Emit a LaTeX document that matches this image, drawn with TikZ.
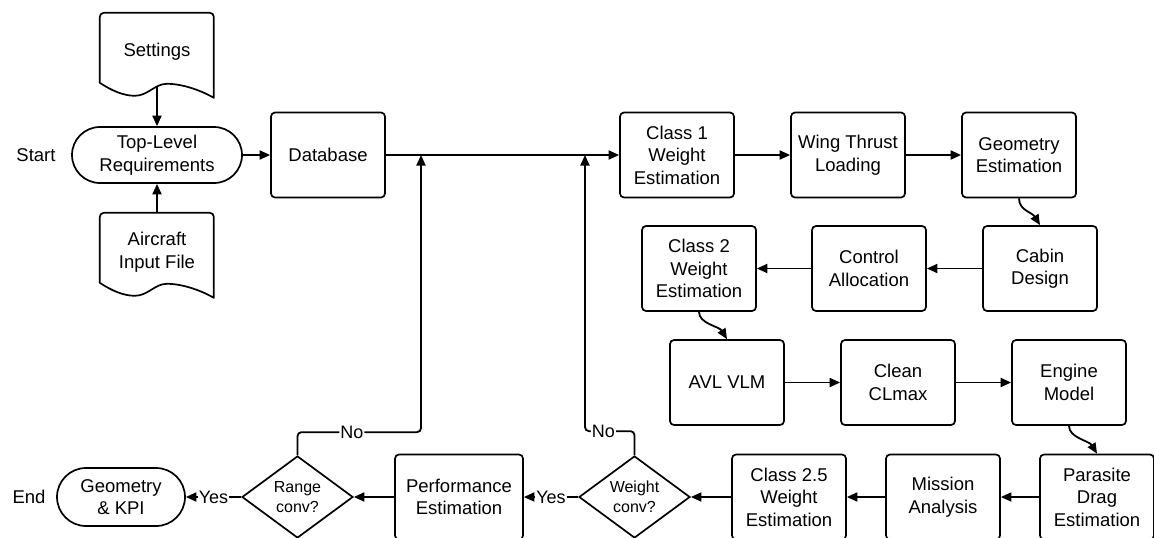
\documentclass[tikz,border=0pt]{standalone}
\usepackage{fontspec}
\setmainfont{Liberation Sans}
\usetikzlibrary{arrows.meta,shapes.geometric}

\tikzset{
  txt/.style={font=\fontsize{18.5}{22.5}\selectfont, align=center},
  base/.style={txt, line width=1.7pt, draw=black, inner sep=1pt},
  box/.style={base, rectangle, rounded corners=4pt, minimum width=114pt, minimum height=85pt},
  wide/.style={box, minimum width=128pt},
  term/.style={base, rectangle, rounded corners=28pt, minimum width=170pt, minimum height=56pt},
  dec/.style={base, diamond, aspect=1.35, inner sep=0pt, minimum width=111pt, minimum height=82pt,
              font=\fontsize{16}{19.5}\selectfont},
  doc/.style={txt, inner sep=0pt, minimum width=114pt, minimum height=78pt},
  lbl/.style={fill=white, inner sep=1pt, font=\fontsize{18}{20}\selectfont},
  arr/.style={line width=1.8pt, -{Triangle[length=10.5pt,width=9pt]}},
  edge line/.style={line width=1.7pt, line join=round},
}

% outline of a "document" symbol: rounded top, wavy bottom edge
\newcommand\docoutline[1]{%
  \begin{scope}[shift={(#1.north west)}]
    \draw[edge line] (0,70) [rounded corners=4pt] -- (0,0) -- (114,0) [sharp corners] -- (114,85)
      .. controls (100,77) and (82,71) .. (67,71)
      .. controls (55,71) and (48,83) .. (35,83)
      .. controls (24,83) and (12,78) .. (0,70) -- cycle;
  \end{scope}}

\begin{document}
\begin{tikzpicture}[x=1pt,y=-1pt]
  \fill[white] (0,0) rectangle (1154,538);
  \useasboundingbox (0,0) rectangle (1154,538);

  % inputs and start
  \node[doc] (set) at (157,52) {Settings};
  \node[doc] (air) at (157,252) {Aircraft\\Input File};
  \docoutline{set}
  \docoutline{air}
  \node[term] (tl) at (157,155) {Top-Level\\Requirements};
  \node[txt] (start) at (36,155) {Start};
  \node[box] (db) at (328,155) {Database};

  % sizing loop, first row
  \node[box] (c1) at (677,155) {Class 1\\Weight\\Estimation};
  \node[box] (wtl) at (848,155) {Wing Thrust\\Loading};
  \node[box] (geo) at (1019,155) {Geometry\\Estimation};

  % second row
  \node[box] (cab) at (1040,268.5) {Cabin\\Design};
  \node[box] (ctrl) at (869,268.5) {Control\\Allocation};
  \node[box] (c2) at (699,268.5) {Class 2\\Weight\\Estimation};

  % third row
  \node[box] (avl) at (727,382.5) {AVL VLM};
  \node[box] (clean) at (898,382.5) {Clean\\CLmax};
  \node[box] (eng) at (1069,382.5) {Engine\\Model};

  % bottom row
  \node[box] (par) at (1097,497) {Parasite\\Drag\\Estimation};
  \node[box] (mis) at (943,497) {Mission\\Analysis};
  \node[box] (c25) at (789,497) {Class 2.5\\Weight\\Estimation};
  \node[dec] (wc) at (634.5,497) {Weight\\conv?};
  \node[wide] (perf) at (459,497) {Performance\\Estimation};
  \node[dec] (rc) at (297.5,497) {Range\\conv?};
  \node[term, minimum width=128pt, minimum height=58pt, rounded corners=29pt] (gk) at (121,497) {Geometry\\\& KPI};
  \node[txt] (end) at (29,497) {End};

  % merge points on the main line
  \coordinate (j1) at (421,155);
  \coordinate (j2) at (585,155);

  % connectors
  \draw[arr] ([yshift=5pt]set.south) -- (tl.north);
  \draw[arr] (air.north) -- (tl.south);
  \draw[arr] (tl.east) -- (db.west);
  \draw[arr] (db.east) -- (c1.west);
  \draw[arr] (c1.east) -- (wtl.west);
  \draw[arr] (wtl.east) -- (geo.west);
  \draw[arr] (geo.south) .. controls +(0,12) and +(-8,-13) .. (cab.north);
  \draw[arr] (cab.west) -- (ctrl.east);
  \draw[arr] (ctrl.west) -- (c2.east);
  \draw[arr] (c2.south) .. controls +(0,12) and +(-8,-13) .. (avl.north);
  \draw[arr] (avl.east) -- (clean.west);
  \draw[arr] (clean.east) -- (eng.west);
  \draw[arr] (eng.south) .. controls +(0,12) and +(-8,-13) .. (par.north);
  \draw[arr] (par.west) -- (mis.east);
  \draw[arr] (mis.west) -- (c25.east);
  \draw[arr] (c25.west) -- (wc.east);
  \draw[arr] (wc.west) -- node[lbl] {Yes} (perf.east);
  \draw[arr] (perf.west) -- (rc.east);
  \draw[arr] (rc.west) -- node[lbl] {Yes} (gk.east);

  % loops back to the main line
  \draw[arr, rounded corners=4pt] (wc.north) -- ++(0,-24)
        -- node[lbl, pos=0.63] {No} ++(-49.5,0) -- (j2);
  \draw[arr, rounded corners=4pt] (rc.north) -- ++(0,-23)
        -- node[lbl, pos=0.44] {No} ++(123.5,0) -- (j1);
\end{tikzpicture}
\end{document}
